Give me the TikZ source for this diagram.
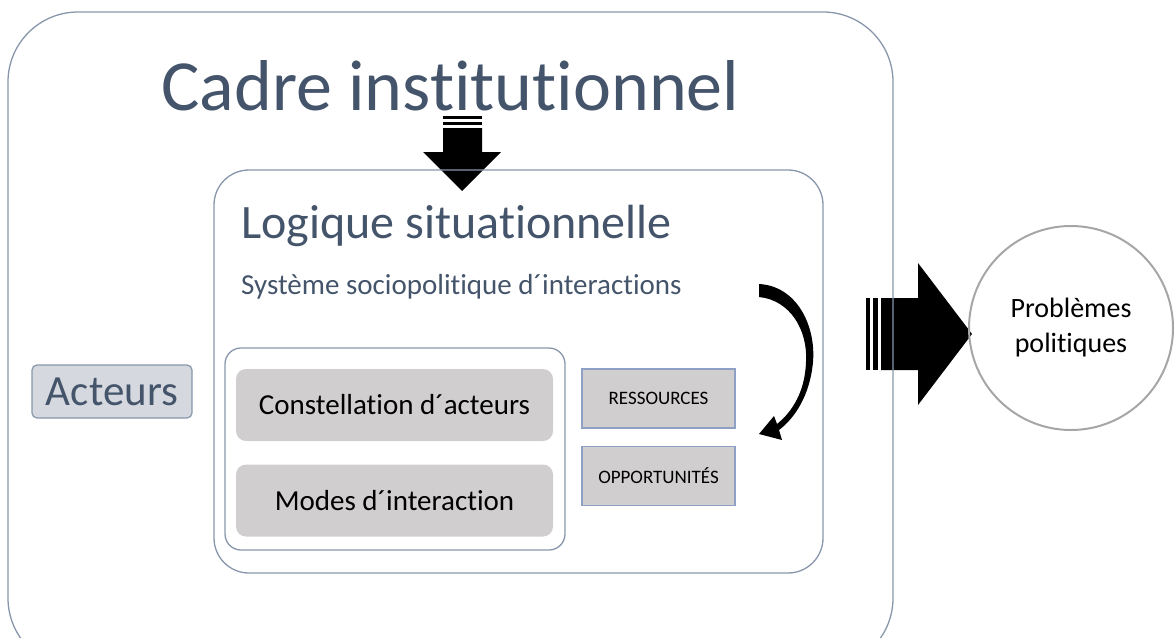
\documentclass[tikz,border=0pt]{standalone}
\usepackage{fontspec}
\setmainfont{Carlito}[Ligatures=NoCommon]
\usepackage{xcolor}
\usetikzlibrary{calc,positioning}
\definecolor{slate}{HTML}{44546A}
\definecolor{frame}{HTML}{8896AB}
\definecolor{boxgray}{HTML}{D0CECE}
\definecolor{boxblue}{HTML}{8EA0C4}
\definecolor{acteurfill}{HTML}{D5D8DE}
\definecolor{ringgray}{HTML}{A6A6A6}

\begin{document}
\begin{tikzpicture}[x=1pt, y=-1pt,
  framebox/.style={draw=frame, line width=1.3pt},
  graybox/.style={fill=boxgray, rounded corners=10pt, minimum width=317pt, minimum height=72pt, font=\fontsize{29}{32}\selectfont},
  smallbox/.style={draw=boxblue, line width=1.2pt, fill=boxgray, minimum width=153pt, minimum height=59pt, font=\fontsize{19}{22}\selectfont},
  blockarrow/.style={fill=black}]
\useasboundingbox (0,0) rectangle (1174,637);
\clip (0,0) rectangle (1174,637);
% fleches pleines
\fill[blockarrow] (443,116) rectangle (482,119);
\fill[blockarrow] (443,122) rectangle (482,125);
\fill[blockarrow] (443,128) -- (482,128) -- (482,152) -- (501,152) -- (462,191) -- (423,152) -- (443,152) -- cycle;
\fill[blockarrow] (866,298) rectangle (870,370);
\fill[blockarrow] (873,298) rectangle (878,370);
\fill[blockarrow] (881,298) -- (918,298) -- (918,263) -- (972,334) -- (918,405) -- (918,370) -- (881,370) -- cycle;
% cadres
\draw[framebox, rounded corners=70pt] (8,12) rectangle (893,668);
\draw[framebox, rounded corners=35pt] (214,170) rectangle (823,573);
\draw[framebox, rounded corners=16pt] (225,348) rectangle (565,550);
% titres
\node[anchor=base, inner sep=0pt, text=slate, font=\fontsize{72}{76}\selectfont] (cadre) at (450.5,110) {Cadre institutionnel};
\node[anchor=base west, inner sep=0pt, text=slate, font=\fontsize{48}{52}\selectfont] (logique) at (241,238) {Logique situationnelle};
\node[anchor=base west, inner sep=0pt, text=slate, font=\fontsize{29}{32}\selectfont] (systeme) at (241,294) {Système sociopolitique d´interactions};
% boites
\node[graybox] (constellation) at (394.5,405) {Constellation d´acteurs};
\node[graybox] (modes) at (394.5,500.5) {Modes d´interaction};
\node[smallbox] (ressources) at (658.5,398.5) {RESSOURCES};
\node[smallbox] (opportunites) at (658.5,476) {OPPORTUNITÉS};
\node[draw=frame, line width=1.2pt, fill=acteurfill, rounded corners=5pt, minimum width=160pt, minimum height=53pt, text=slate, font=\fontsize{43}{46}\selectfont] (acteurs) at (112,391.5) {Acteurs};
\node[circle, draw=ringgray, line width=2pt, minimum size=204pt, align=center, font=\fontsize{28}{35}\selectfont] (problemes) at (1071,328) {Problèmes\\politiques};
% fleche courbe
\fill[blockarrow] (759,284) .. controls (797,286) and (816,326) .. (813,362) .. controls (810,395) and (795,418) .. (779,430) -- (782,440) -- (759,434) -- (774,416) -- (777,424) .. controls (792,412) and (805,392) .. (806,362) .. controls (808,330) and (790,300) .. (759,297) -- cycle;
\end{tikzpicture}
\end{document}
